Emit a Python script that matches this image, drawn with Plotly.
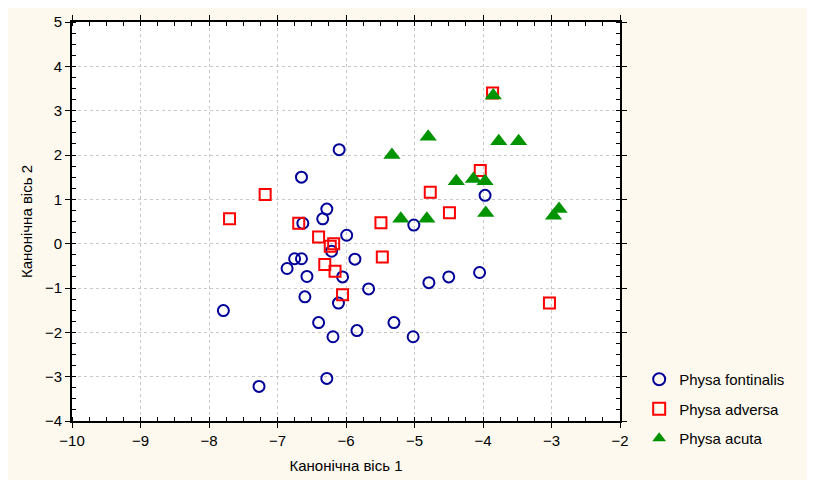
import plotly.graph_objects as go

# Physa fontinalis (circles)
fontinalis_x = [-6.10, -6.65, -6.28, -6.34, -6.63, -5.99, -6.21, -6.75, -6.65, -6.86,
                -5.87, -6.57, -6.05, -6.60, -6.11, -5.67, -7.79, -6.40, -5.84, -6.19,
                -5.30, -6.28, -7.27, -5.02, -5.01, -4.79, -4.50, -4.05, -3.97]
fontinalis_y = [2.12, 1.50, 0.78, 0.56, 0.46, 0.19, -0.17, -0.34, -0.34, -0.56,
                -0.35, -0.74, -0.75, -1.20, -1.34, -1.02, -1.51, -1.78, -1.96, -2.10,
                -1.78, -3.04, -3.22, -2.10, 0.42, -0.88, -0.75, -0.65, 1.09]

# Physa adversa (squares)
adversa_x = [-7.70, -7.18, -6.69, -6.40, -6.23, -6.18, -6.31, -6.16, -6.05, -5.47,
             -5.49, -4.49, -4.77, -4.04, -3.86, -3.03]
adversa_y = [0.56, 1.11, 0.46, 0.15, -0.06, 0.00, -0.47, -0.62, -1.15, -0.30,
             0.47, 0.70, 1.16, 1.65, 3.40, -1.34]

# Physa acuta (triangles)
acuta_x = [-5.33, -4.80, -3.85, -3.77, -3.48, -4.39, -4.14, -3.97, -5.20, -4.82,
           -3.96, -2.97, -2.89]
acuta_y = [2.00, 2.41, 3.34, 2.31, 2.31, 1.41, 1.46, 1.41, 0.56, 0.56,
           0.69, 0.63, 0.78]

series_names = ["Physa fontinalis", "Physa adversa", "Physa acuta"]
x_title = "Канонічна вісь 1"
y_title = "Канонічна вісь 2"

FONT = "Liberation Sans, Arial, sans-serif"
CREAM = "#FDF9EE"

fig = go.Figure()
fig.add_trace(go.Scatter(
    x=fontinalis_x, y=fontinalis_y, mode="markers", name=series_names[0],
    legendgroup="a",
    marker=dict(symbol="circle-open", size=11, color="#000099",
                line=dict(color="#000099", width=2))))
fig.add_trace(go.Scatter(
    x=adversa_x, y=adversa_y, mode="markers", name=series_names[1],
    legendgroup="b",
    marker=dict(symbol="square-open", size=11, color="#FF0000",
                line=dict(color="#FF0000", width=2))))
fig.add_trace(go.Scatter(
    x=acuta_x, y=acuta_y, mode="markers", name=series_names[2],
    legendgroup="c",
    marker=dict(symbol="triangle-up", size=15, color="#009300",
                line=dict(width=0))))

axis_common = dict(
    showline=True, linecolor="black", linewidth=2, mirror="ticks",
    ticks="outside", ticklen=5, tickwidth=1, tickcolor="black",
    showgrid=True, gridcolor="#C8C8C8", gridwidth=1, griddash="dot",
    zeroline=False, dtick=1,
    tickfont=dict(family=FONT, size=15, color="black"),
    minor=dict(dtick=0.25, ticks="inside", ticklen=4, tickwidth=1,
               tickcolor="black", showgrid=False),
)

fig.update_xaxes(range=[-10, -2], tick0=-10,
                 title=dict(text=x_title, font=dict(family=FONT, size=15, color="black"),
                            standoff=12),
                 **axis_common)
fig.update_yaxes(range=[-4, 5], tick0=-4,
                 title=dict(text=y_title, font=dict(family=FONT, size=15, color="black"),
                            standoff=9),
                 **axis_common)

fig.update_layout(
    width=823, height=480,
    margin=dict(l=64, r=211, t=14, b=67, autoexpand=False),
    paper_bgcolor=CREAM, plot_bgcolor="white",
    font=dict(family=FONT, size=15, color="black"),
    showlegend=True,
    legend=dict(x=1.035, y=0.03, xanchor="left", yanchor="middle",
                bgcolor="rgba(0,0,0,0)", font=dict(family=FONT, size=15, color="black"),
                tracegroupgap=7, itemsizing="constant"),
)

fig.write_html("out.html")
